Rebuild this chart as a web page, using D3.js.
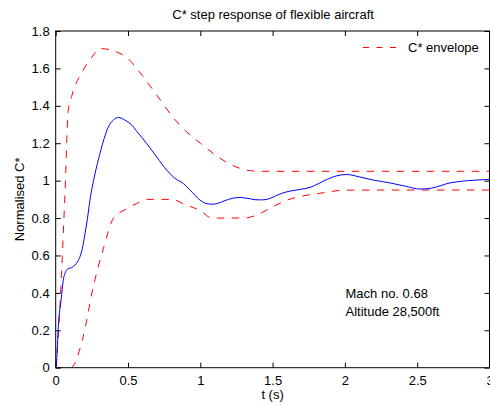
<!DOCTYPE html>
<html><head><meta charset="utf-8">
<script src="https://cdn.jsdelivr.net/npm/d3@7"></script>
<style>
html,body{margin:0;padding:0;background:#fff;}
svg{display:block;font-family:"Liberation Sans",Arial,Helvetica,sans-serif;}
</style>
</head><body>
<svg id="chart" width="490" height="406"></svg>
<script>
// Response (blue solid)
const respT = [0, 0.007, 0.018, 0.037, 0.053, 0.07, 0.087, 0.11, 0.133, 0.15, 0.168, 0.185, 0.203, 0.22, 0.237, 0.27, 0.306, 0.335, 0.364, 0.4, 0.433, 0.46, 0.49, 0.514, 0.57, 0.629, 0.7, 0.768, 0.82, 0.882, 0.93, 0.998, 1.04, 1.079, 1.12, 1.17, 1.22, 1.275, 1.33, 1.38, 1.425, 1.47, 1.52, 1.57, 1.62, 1.69, 1.759, 1.82, 1.88, 1.94, 2.012, 2.1, 2.197, 2.31, 2.42, 2.52, 2.6, 2.727, 2.85, 2.98, 3.0];
const respV = [0, 0.04, 0.22, 0.36, 0.47, 0.515, 0.53, 0.535, 0.549, 0.565, 0.593, 0.64, 0.718, 0.8, 0.896, 1.03, 1.145, 1.225, 1.287, 1.325, 1.338, 1.332, 1.318, 1.306, 1.255, 1.199, 1.125, 1.056, 1.015, 0.985, 0.949, 0.896, 0.878, 0.874, 0.878, 0.893, 0.905, 0.91, 0.905, 0.898, 0.897, 0.902, 0.918, 0.934, 0.944, 0.953, 0.964, 0.985, 1.008, 1.025, 1.033, 1.02, 1.003, 0.988, 0.97, 0.955, 0.96, 0.988, 1.0, 1.006, 1.007];

// Envelope upper bound (red dashed)
const upperT = [0, 0.02, 0.04, 0.064, 0.087, 0.11, 0.135, 0.168, 0.203, 0.25, 0.306, 0.375, 0.43, 0.49, 0.56, 0.63, 0.72, 0.81, 0.9, 1.0, 1.1, 1.2, 1.3, 1.4, 2.0, 3.0];
const upperV = [0, 0.2, 0.5, 0.93, 1.377, 1.45, 1.51, 1.56, 1.608, 1.66, 1.706, 1.70, 1.685, 1.66, 1.60, 1.53, 1.435, 1.34, 1.265, 1.2, 1.14, 1.09, 1.06, 1.05, 1.05, 1.05];

// Envelope lower bound (red dashed)
const lowerT = [0, 0.104, 0.19, 0.26, 0.33, 0.4, 0.48, 0.56, 0.63, 0.7, 0.8, 0.9, 1.0, 1.08, 1.2, 1.3, 1.39, 1.5, 1.6, 1.736, 1.85, 1.99, 2.5, 3.0];
const lowerV = [0, 0, 0.166, 0.433, 0.638, 0.8, 0.845, 0.878, 0.9, 0.9, 0.9, 0.87, 0.84, 0.8, 0.8, 0.8, 0.816, 0.86, 0.896, 0.922, 0.935, 0.949, 0.95, 0.95];

const xTicks = [0, 0.5, 1, 1.5, 2, 2.5, 3];
const yTicks = [0, 0.2, 0.4, 0.6, 0.8, 1, 1.2, 1.4, 1.6, 1.8];

const titleText = "C* step response of flexible aircraft";
const xLabel = "t (s)";
const yLabel = "Normalised C*";
const legendLabel = "C* envelope";
const notes = ["Mach no. 0.68", "Altitude 28,500ft"];

const svg = d3.select("#chart");
const L = 55.7, R = 489.5, T = 31, B = 367.7;
const x = d3.scaleLinear().domain([0, 3]).range([L, R]);
const y = d3.scaleLinear().domain([0, 1.8]).range([B, T]);

const fmt = d => (d === 0 ? "0" : String(d));
const tickLen = 5;

// axes with inward ticks
const gx = svg.append("g").attr("transform", `translate(0,${B})`)
  .call(d3.axisBottom(x).tickValues(xTicks).tickFormat(fmt).tickSizeInner(-tickLen).tickSizeOuter(0).tickPadding(8));
const gxt = svg.append("g").attr("transform", `translate(0,${T})`)
  .call(d3.axisTop(x).tickValues(xTicks).tickFormat("").tickSizeInner(-tickLen).tickSizeOuter(0));
const gy = svg.append("g").attr("transform", `translate(${L},0)`)
  .call(d3.axisLeft(y).tickValues(yTicks).tickFormat(fmt).tickSizeInner(-tickLen).tickSizeOuter(0).tickPadding(6));
const gyr = svg.append("g").attr("transform", `translate(${R},0)`)
  .call(d3.axisRight(y).tickValues(yTicks).tickFormat("").tickSizeInner(-tickLen).tickSizeOuter(0));
[gx, gxt, gy, gyr].forEach(g => {
  g.select(".domain").remove();
  g.selectAll("line").attr("stroke", "#000").attr("stroke-width", 1);
  g.selectAll("text").attr("font-size", 13).attr("fill", "#000")
    .attr("font-family", "'Liberation Sans', Arial, sans-serif");
});

// clip
svg.append("clipPath").attr("id", "clip").append("rect")
  .attr("x", L).attr("y", T).attr("width", R - L).attr("height", B - T);

const plot = svg.append("g").attr("clip-path", "url(#clip)");
const line = d3.line().curve(d3.curveMonotoneX);

const upperPts = upperT.map((t, i) => [x(t), y(upperV[i])]);
const lowerPts = lowerT.map((t, i) => [x(t), y(lowerV[i])]);
const respPts = respT.map((t, i) => [x(t), y(respV[i])]);

plot.append("path").attr("d", line(upperPts)).attr("fill", "none")
  .attr("stroke", "#ff0000").attr("stroke-width", 1).attr("stroke-dasharray", "7.5,7.5");
plot.append("path").attr("d", line(lowerPts)).attr("fill", "none")
  .attr("stroke", "#ff0000").attr("stroke-width", 1).attr("stroke-dasharray", "7.5,7.5");
plot.append("path").attr("d", line(respPts)).attr("fill", "none")
  .attr("stroke", "#0000ff").attr("stroke-width", 1);

// frame
svg.append("rect").attr("x", L).attr("y", T).attr("width", R - L).attr("height", B - T)
  .attr("fill", "none").attr("stroke", "#000").attr("stroke-width", 1);

// title
svg.append("text").attr("x", (L + R) / 2 + 0.5).attr("y", 18.5).attr("text-anchor", "middle")
  .attr("font-size", 13).text(titleText);
// x label
svg.append("text").attr("x", x(1.5)).attr("y", 398.5).attr("text-anchor", "middle")
  .attr("font-size", 13).text(xLabel);
// y label
svg.append("text").attr("transform", `translate(24,${(T + B) / 2}) rotate(-90)`)
  .attr("text-anchor", "middle").attr("font-size", 13).text(yLabel);

// legend
svg.append("line").attr("x1", 363).attr("x2", 403.5).attr("y1", 47.5).attr("y2", 47.5)
  .attr("stroke", "#ff0000").attr("stroke-width", 1).attr("stroke-dasharray", "6,7.5");
svg.append("text").attr("x", 408).attr("y", 52.3).attr("font-size", 13).text(legendLabel);

// notes
notes.forEach((n, i) => {
  svg.append("text").attr("x", 345.5).attr("y", 297.5 + i * 18.3).attr("font-size", 13).text(n);
});
</script>
</body></html>
